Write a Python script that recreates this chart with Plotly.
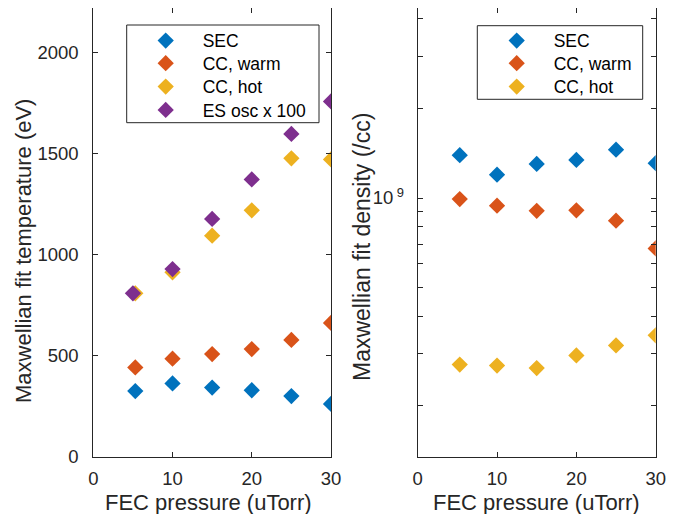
import plotly.graph_objects as go

# ---------------- data ----------------
pressure = [5.3, 10, 15, 20, 25, 30]
es_pressure = [5, 10, 15, 20, 25, 30]

temp_sec = [325, 363, 342, 329, 300, 261]
temp_cc_warm = [442, 485, 508, 533, 578, 662]
temp_cc_hot = [809, 913, 1094, 1220, 1477, 1472]
temp_es_osc = [809, 929, 1177, 1373, 1598, 1759]

dens_sec = [1.393e9, 1.198e9, 1.302e9, 1.343e9, 1.454e9, 1.309e9]
dens_cc_warm = [0.992e9, 0.942e9, 0.906e9, 0.909e9, 0.839e9, 0.677e9]
dens_cc_hot = [0.2754e9, 0.2733e9, 0.268e9, 0.2954e9, 0.3193e9, 0.3454e9]

x_ticks = [0, 10, 20, 30]
temp_ticks = [0, 500, 1000, 1500, 2000]
dens_tickvals = [2e8, 3e8, 4e8, 5e8, 6e8, 7e8, 8e8, 9e8, 1e9, 2e9, 3e9, 4e9]
dens_ticktext = ["" if v != 1e9 else "10<sup>&nbsp;9</sup>" for v in dens_tickvals]

# ---------------- style ----------------
BLUE, ORANGE, YELLOW, PURPLE = "#0072BD", "#D95319", "#EDB120", "#7E2F8E"
AX = "#262626"
FONT = "Liberation Sans, Arial, Helvetica, sans-serif"
MS = 12.5

W, H = 678, 514
OFF = 8  # page body margin


def px(xp):  # page pixel -> paper x
    return (xp - OFF) / W


def py(yp):  # page pixel -> paper y
    return 1 - (yp - OFF) / H


fig = go.Figure()


def mk(color):
    return dict(symbol="diamond", size=MS, color=color, line=dict(width=0))


traces = [
    ("SEC", pressure, temp_sec, BLUE, "x", "y", "legend"),
    ("CC, warm", pressure, temp_cc_warm, ORANGE, "x", "y", "legend2"),
    ("CC, hot", pressure, temp_cc_hot, YELLOW, "x", "y", "legend3"),
    ("ES osc x 100", es_pressure, temp_es_osc, PURPLE, "x", "y", "legend4"),
    ("SEC", pressure, dens_sec, BLUE, "x2", "y2", "legend5"),
    ("CC, warm", pressure, dens_cc_warm, ORANGE, "x2", "y2", "legend6"),
    ("CC, hot", pressure, dens_cc_hot, YELLOW, "x2", "y2", "legend7"),
]
for name, xs, ys, col, xa, ya, lg in traces:
    fig.add_trace(go.Scatter(x=xs, y=ys, mode="markers", name=name, marker=mk(col),
                             xaxis=xa, yaxis=ya, legend=lg))

axis_common = dict(showline=True, linecolor=AX, linewidth=1, mirror="ticks",
                   ticks="inside", ticklen=5, tickcolor=AX, tickwidth=1,
                   showgrid=False, zeroline=False, automargin=False,
                   tickfont=dict(family=FONT, size=18.5, color=AX))

TITLE_FONT = dict(family=FONT, size=22, color=AX)
LEG_FONT = dict(family=FONT, size=17.5, color="black")


def leg(xpage, ypage):
    return dict(x=px(xpage), y=py(ypage), xanchor="left", yanchor="middle",
                bgcolor="rgba(0,0,0,0)", borderwidth=0, font=LEG_FONT,
                itemwidth=64, tracegroupgap=0)


left_rows = [40.7, 63.3, 86.7, 110.0]
right_rows = [40.7, 63.3, 86.7]
legends = {}
for i, yy in enumerate(left_rows):
    legends["legend" if i == 0 else f"legend{i + 1}"] = leg(128.7, yy)
for j, yy in enumerate(right_rows):
    legends[f"legend{j + 5}"] = leg(479.7, yy)

fig.update_layout(
    width=W, height=H,
    margin=dict(l=0, r=0, t=0, b=0),
    paper_bgcolor="white", plot_bgcolor="white",
    font=dict(family=FONT, color=AX),
    xaxis=dict(domain=[px(93.3), px(331)], range=[0, 30], tickvals=x_ticks,
               anchor="y", ticklabelstandoff=5, **axis_common),
    yaxis=dict(domain=[py(456.7), py(8.3)], range=[0, 2220], tickvals=temp_ticks,
               anchor="x", ticklabelstandoff=10, **axis_common),
    xaxis2=dict(domain=[px(417.7), px(655.7)], range=[0, 30], tickvals=x_ticks,
                anchor="y2", ticklabelstandoff=5, **axis_common),
    yaxis2=dict(domain=[py(456.7), py(8.3)], type="log", range=[8.130, 9.638],
                tickvals=dens_tickvals, ticktext=dens_ticktext,
                anchor="x2", ticklabelstandoff=9, **axis_common),
    showlegend=True,
    shapes=[
        dict(type="rect", xref="paper", yref="paper", layer="below",
             x0=px(126.7), x1=px(319), y0=py(122.7), y1=py(25),
             line=dict(color=AX, width=1), fillcolor="white"),
        dict(type="rect", xref="paper", yref="paper", layer="below",
             x0=px(477.3), x1=px(642.7), y0=py(99.3), y1=py(25.7),
             line=dict(color=AX, width=1), fillcolor="white"),
    ],
    annotations=[
        dict(text="FEC pressure (uTorr)", xref="paper", yref="paper",
             x=px(208), y=py(502), xanchor="center", yanchor="middle",
             showarrow=False, font=TITLE_FONT),
        dict(text="FEC pressure (uTorr)", xref="paper", yref="paper",
             x=px(536.7), y=py(502), xanchor="center", yanchor="middle",
             showarrow=False, font=TITLE_FONT),
        dict(text="Maxwellian fit temperature (eV)", xref="paper", yref="paper",
             x=px(23), y=py(251), xanchor="center", yanchor="middle", textangle=-90,
             showarrow=False, font=TITLE_FONT),
        dict(text="Maxwellian fit density (/cc)", xref="paper", yref="paper",
             x=px(362), y=py(247), xanchor="center", yanchor="middle", textangle=-90,
             showarrow=False, font=dict(family=FONT, size=23, color=AX)),
    ],
    **legends,
)

fig.write_html("out.html")
